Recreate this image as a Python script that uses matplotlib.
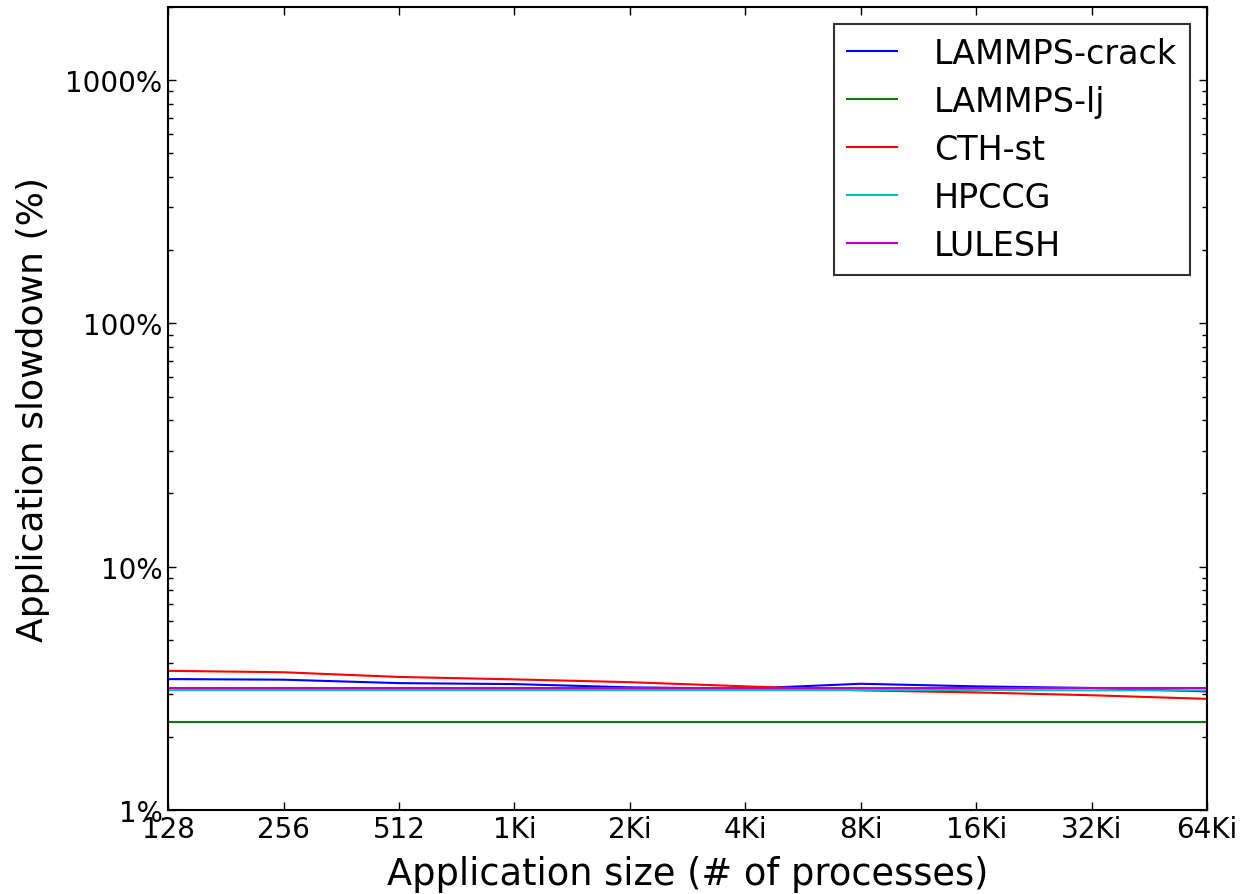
import matplotlib
matplotlib.use("Agg")
import matplotlib.pyplot as plt
from matplotlib.ticker import FixedLocator, LogLocator, NullFormatter

sizes = ["128", "256", "512", "1Ki", "2Ki", "4Ki", "8Ki", "16Ki", "32Ki", "64Ki"]

# slowdown in percent
lammps_crack = [3.45, 3.43, 3.32, 3.29, 3.19, 3.15, 3.30, 3.22, 3.17, 3.07]
lammps_lj = [2.29, 2.29, 2.29, 2.29, 2.29, 2.29, 2.29, 2.29, 2.29, 2.29]
cth_st = [3.73, 3.68, 3.52, 3.44, 3.35, 3.22, 3.10, 3.04, 2.96, 2.86]
hpccg = [3.11, 3.11, 3.11, 3.11, 3.11, 3.11, 3.11, 3.11, 3.10, 3.10]
lulesh = [3.16, 3.16, 3.16, 3.16, 3.16, 3.16, 3.16, 3.16, 3.16, 3.16]

series = [
    ("LAMMPS-crack", lammps_crack, "b"),
    ("LAMMPS-lj", lammps_lj, "g"),
    ("CTH-st", cth_st, "r"),
    ("HPCCG", hpccg, "c"),
    ("LULESH", lulesh, "m"),
]

plt.rcParams["font.family"] = "DejaVu Sans"
plt.rcParams["axes.linewidth"] = 1.5
plt.rcParams["xtick.direction"] = "in"
plt.rcParams["ytick.direction"] = "in"
plt.rcParams["xtick.top"] = True
plt.rcParams["ytick.right"] = True

fig = plt.figure(figsize=(12.45, 8.95), dpi=100)
ax = fig.add_axes([0.135, 0.094, 0.8345, 0.897])

x = list(range(len(sizes)))
for name, vals, col in series:
    ax.plot(x, vals, color=col, linewidth=1.5, label=name)

ax.set_yscale("log")
ax.set_ylim(1, 2000)
ax.set_xlim(0, len(sizes) - 1)

ax.yaxis.set_major_locator(FixedLocator([1, 10, 100, 1000]))
ax.set_yticklabels(["1%", "10%", "100%", "1000%"])
ax.yaxis.set_minor_locator(LogLocator(base=10, subs=range(2, 10)))
ax.yaxis.set_minor_formatter(NullFormatter())

ax.set_xticks(x)
ax.set_xticklabels(sizes)

ax.tick_params(which="major", length=6, width=1, labelsize=20, pad=4)
ax.tick_params(which="minor", length=3.5, width=1)

ax.set_xlabel("Application size (# of processes)", fontsize=26.5, labelpad=8.5)
ax.set_ylabel("Application slowdown (%)", fontsize=26, labelpad=11)

leg = ax.legend(loc="upper right", fontsize=24, handlelength=1.5,
                handletextpad=1.1, labelspacing=0.45, fancybox=False,
                borderaxespad=0.5, borderpad=0.4)
leg.get_frame().set_edgecolor("black")
leg.get_frame().set_linewidth(1.5)

fig.savefig("out.png", dpi=100)
